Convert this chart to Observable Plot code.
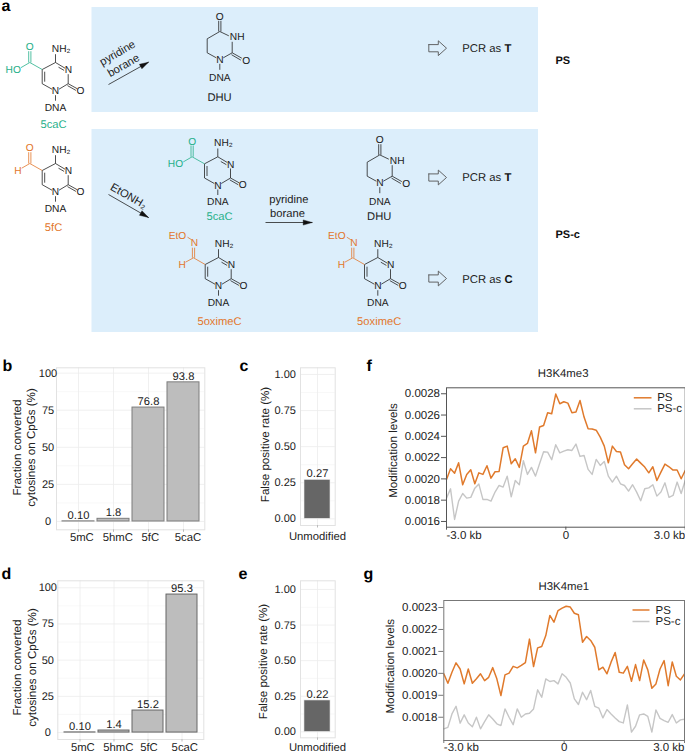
<!DOCTYPE html>
<html><head><meta charset="utf-8">
<script src="https://cdn.jsdelivr.net/npm/d3@7"></script>
<script src="https://cdn.jsdelivr.net/npm/@observablehq/plot@0.6"></script>
<style>
html,body{margin:0;padding:0;background:#fff}
#page{position:relative;width:685px;height:753px;overflow:hidden}
#page svg{position:absolute;background:transparent;overflow:visible;text-rendering:geometricPrecision}
</style></head><body><div id="page"></div>
<script>
const FONT = "'Liberation Sans', Arial, sans-serif";
const cats = ["5mC","5hmC","5fC","5caC"];
const valuesB = [0.10,1.8,76.8,93.8];
const labelsB = ["0.10","1.8","76.8","93.8"];
const valuesD = [0.10,1.4,15.2,95.3];
const labelsD = ["0.10","1.4","15.2","95.3"];
const unmod = ["Unmodified"];
const valuesC = [0.27];
const valuesE = [0.22];
const f_PS = [1.995,2.095,2.054,2.151,1.945,2.042,2.086,1.954,2.057,2.042,2.123,2.007,2.067,2.070,2.292,2.308,2.142,2.189,2.108,2.308,2.333,2.452,2.245,2.487,2.502,2.621,2.612,2.797,2.706,2.725,2.712,2.621,2.628,2.737,2.581,2.471,2.468,2.458,2.393,2.308,2.151,2.308,2.258,2.252,2.133,2.095,2.142,2.186,2.148,2.111,2.057,2.114,1.985,2.064,2.139,2.114,2.083,2.083,2.001,2.079];
const f_PSc = [1.819,1.907,1.619,1.791,1.863,1.819,1.826,1.913,1.951,1.807,1.807,1.791,1.876,1.938,1.923,2.026,1.832,1.985,1.945,2.170,2.042,2.108,2.026,2.142,2.255,2.252,2.180,2.321,2.245,2.261,2.274,2.267,2.327,2.211,2.220,2.089,2.042,2.183,2.126,2.164,2.026,1.970,2.026,1.954,1.938,1.885,1.945,1.876,1.794,1.907,1.916,1.945,1.838,1.876,1.963,1.826,1.844,1.970,1.863,1.985];
const g_PS = [1.998,1.955,2.005,2.048,2.020,1.952,2.020,1.955,1.975,1.998,1.967,1.982,2.026,1.975,1.899,1.993,2.001,2.032,2.025,2.036,2.049,2.156,2.031,2.116,2.122,2.172,2.264,2.233,2.286,2.297,2.306,2.302,2.274,2.267,2.142,2.168,2.150,2.119,2.016,2.028,1.998,2.051,2.095,2.005,2.001,2.032,1.964,2.040,1.967,2.061,2.016,1.932,1.952,2.020,2.058,1.944,2.052,1.987,1.970,1.998];
const g_PSc = [1.747,1.754,1.815,1.850,1.773,1.811,1.774,1.757,1.800,1.747,1.780,1.811,1.792,1.770,1.762,1.838,1.800,1.766,1.838,1.800,1.815,1.818,1.838,1.925,1.891,1.975,1.963,1.967,1.952,1.998,1.982,1.956,1.884,1.858,1.914,1.880,1.922,1.850,1.842,1.797,1.835,1.815,1.797,1.780,1.774,1.856,1.732,1.759,1.811,1.815,1.804,1.732,1.833,1.795,1.785,1.777,1.812,1.774,1.788,1.791];
const ticksPct = [0,25,50,75,100];
const minorPct = [12.5,37.5,62.5,87.5];
const ticksRate = [0,0.25,0.5,0.75,1];
const minorRate = [0.125,0.375,0.625,0.875];
const ticksF = [0.0016,0.0018,0.0020,0.0022,0.0024,0.0026,0.0028];
const ticksG = [0.0018,0.0019,0.0020,0.0021,0.0022,0.0023];

const page = document.getElementById("page");
const INK="#222", GREEN="#27b08a", ORANGE="#e2762b", BLUE="#dceefb";
const GRID="#ececec", MINOR="#f5f5f5", BORDER="#e2e2e2";

function place(svg,box){
  svg.style.left=box.left+"px"; svg.style.top=box.top+"px";
  page.appendChild(svg);
}
// box = svg rectangle on the page; fr = plotting frame on the page
function panel(box,fr,opts){
  const svg = Plot.plot({
    width:box.w,height:box.h,
    marginLeft:fr.x0-box.left,marginRight:box.left+box.w-fr.x1,
    marginTop:fr.y0-box.top,marginBottom:box.top+box.h-fr.y1,
    style:{fontFamily:FONT,fontSize:"11.3px",background:"transparent",color:"#1a1a1a"},
    ...opts});
  place(svg,box);
}

/* ---------- bar panels ---------- */
function barPanel(box,fr,ydom,x,vals,labs,ticks,minor,fill,stroke,yDx,shifts,sw,fmt,labelDy){
  const rows = x.map((c,i)=>({c,v:vals[i],l:labs[i]}));
  panel(box,fr,{
    x:{type:"band",domain:x,paddingInner:x.length>1?0.091:0,paddingOuter:x.length>1?0.148:0.15,axis:null},
    y:{domain:ydom,axis:null},
    marks:[
      Plot.ruleY(minor,{stroke:MINOR,strokeWidth:0.7}),
      Plot.ruleY(ticks,{stroke:GRID,strokeWidth:0.8}),
      Plot.ruleX(x,{x:d=>d,stroke:GRID,strokeWidth:0.8}),
      Plot.frame({stroke:BORDER,strokeWidth:1}),
      Plot.barY(rows,{x:"c",y1:0,y2:"v",fill,stroke,strokeWidth:sw}),
      Plot.text(rows,{x:"c",y:"v",text:"l",lineAnchor:"middle",dy:-6,fontSize:11.2,fill:"#1a1a1a"}),
      Plot.axisY({ticks,tickSize:0,tickPadding:0,label:null,anchor:"left",textAnchor:"middle",dx:yDx,fontSize:11,fill:"#222",tickFormat:fmt}),
      Plot.axisX({tickSize:2.5,stroke:"#bbb",fill:"none",label:null}),
      ...x.map((c,i)=>Plot.text([c],{x:d=>d,frameAnchor:"bottom",lineAnchor:"middle",dx:shifts[i],dy:labelDy,fontSize:11.3,fill:"#222"}))
    ]});
}
const pct = d=>String(d), rate = d=>d.toFixed(2);
barPanel({left:20,top:358,w:200,h:190},{x0:56,x1:204.3,y0:367.3,y1:529.3},[-5.6,103.6],cats,valuesB,labelsB,ticksPct,minorPct,"#bdbdbd","#7d7d7d",-8.5,[3.3,4.3,1.8,4.4],1,pct,7.5);
barPanel({left:20,top:571,w:200,h:180},{x0:57.3,x1:203.3,y0:580.3,y1:739},[-4.8,104.8],cats,valuesD,labelsD,ticksPct,minorPct,"#bdbdbd","#666",-10,[2.8,4.3,1,2.8],1,pct,8);
barPanel({left:270,top:358,w:90,h:190},{x0:300,x1:334.7,y0:367.3,y1:525},[-0.046,1.046],unmod,valuesC,["0.27"],ticksRate,minorRate,"#666","#eee",-15.3,[0],0.6,rate,11);
barPanel({left:270,top:571,w:90,h:180},{x0:300,x1:334.7,y0:580.3,y1:737.3},[-0.042,1.061],unmod,valuesE,["0.22"],ticksRate,minorRate,"#666","#ddd",-15.3,[0],0.6,rate,9.7);

/* ---------- line panels ---------- */
function linePanel(box,fr,ydom,ps,psc,ticks,axisColor,textDy){
  const rows = (arr,s)=>arr.map((v,i)=>({x:-3+i*6/(arr.length-1),y:v/1000,s}));
  panel(box,fr,{
    x:{domain:[-3,3],axis:null},
    y:{domain:ydom,axis:null},
    marks:[
      Plot.line(rows(psc,"PS-c"),{x:"x",y:"y",stroke:"#c6c6c6",strokeWidth:1.4}),
      Plot.line(rows(ps,"PS"),{x:"x",y:"y",stroke:"#e07a2c",strokeWidth:1.5}),
      Plot.frame({stroke:axisColor,strokeWidth:1}),
      Plot.axisY({ticks,tickSize:5,tickPadding:1.5,label:null,anchor:"left",stroke:axisColor,fontSize:11.5,fill:"#222",tickFormat:d3.format(".4f")}),
      Plot.axisX({ticks:[-3,0,3],tickSize:3,stroke:axisColor,fill:"none",label:null}),
      Plot.text(["-3.0 kb"],{x:()=>-3,frameAnchor:"bottom",lineAnchor:"middle",textAnchor:"start",dy:textDy,fontSize:11.5,fill:"#222"}),
      Plot.text(["0"],{x:()=>0,frameAnchor:"bottom",lineAnchor:"middle",dy:textDy,fontSize:11.5,fill:"#222"}),
      Plot.text(["3.0 kb"],{x:()=>3,frameAnchor:"bottom",lineAnchor:"middle",textAnchor:"end",dy:textDy,fontSize:11.5,fill:"#222"})
    ]});
}
linePanel({left:400,top:380,w:285,h:165},{x0:446,x1:684.7,y0:387.3,y1:526.7},[0.001546,0.002856],f_PS,f_PSc,ticksF,"#555",8.5);
linePanel({left:400,top:592,w:285,h:160},{x0:443.3,x1:684,y0:600,y1:740},[0.001694,0.002332],g_PS,g_PSc,ticksG,"#777",6.8);

/* ---------- schematic, panel letters and free text ---------- */
const molecules = [
  {kind:"C",x:55,y:90.7,sub:"caC"},
  {kind:"C",x:55,y:191.7,sub:"fC"},
  {kind:"C",x:217.3,y:185,sub:"caC"},
  {kind:"C",x:218,y:285.7,sub:"ox"},
  {kind:"C",x:377.3,y:285.7,sub:"ox"},
  {kind:"U",x:219.3,y:59.3},
  {kind:"U",x:379.3,y:182.7}
];
const cytBonds = [[3.5,-2,12.7,-7.5],[12.7,-7.5,12.7,-17],[9.5,-23,0,-28.7],[8.6,-20.8,3,-24],[0,-28.7,-13.3,-21.7],[-13.3,-21.7,-13.3,-7.5],[-10.8,-19.5,-10.8,-9.5],[-13.3,-7.5,-3.5,-2],[0,-28.7,0,-37],[12.7,-7.5,21.5,-2.6],[12,-5.6,20.4,-0.8],[0,4,0,9.5]];
const cytAtoms = [["N",0,0],["N",12.9,-21],["O",25,-0.3],["NH₂",5.6,-42.5],["DNA",0,16.3]];
const dhuBonds = [[3.5,-2,12.4,-7],[12.4,-7,12.4,-18],[9,-24,0,-28.3],[0,-28.3,-12.6,-21],[-12.6,-21,-12.6,-7],[-12.6,-7,-3.5,-2],[-1.1,-28.3,-1.1,-39],[1.1,-28.3,1.1,-39],[12.4,-7,22,-1.6],[11.7,-5.1,21,0.3],[0,4,0,10]];
const dhuAtoms = [["N",0,0],["NH",17.4,-22.6],["O",0,-43.3],["O",26.4,0.7],["DNA",0,18.4]];
const subBonds = {
  caC:[[-13.3,-21.7,-25.7,-28.7],[-26.8,-28.7,-26.8,-40],[-24.6,-28.7,-24.6,-40],[-25.7,-28.7,-34.5,-23.6]],
  fC:[[-13.3,-21.7,-25.7,-28.7],[-26.8,-28.7,-26.8,-40],[-24.6,-28.7,-24.6,-40],[-25.7,-28.7,-33.8,-24]],
  ox:[[-13.3,-21.7,-25,-28.4],[-26.1,-28.4,-26.1,-38.5],[-23.9,-28.4,-23.9,-38.5],[-25,-28.4,-33,-24],[-27,-46.5,-31,-49]]
};
const subAtoms = {
  caC:[["O",-25.7,-44],["HO",-42.3,-21.7]],
  fC:[["O",-25.7,-44],["H",-37.7,-21.7]],
  ox:[["N",-24,-43.4],["EtO",-41,-50.7],["H",-36.3,-21.7]]
};
const subColor = {caC:GREEN,fC:ORANGE,ox:ORANGE};
const bonds=[],atoms=[];
for(const m of molecules){
  const bl = m.kind==="C"?cytBonds:dhuBonds, al = m.kind==="C"?cytAtoms:dhuAtoms;
  bl.forEach(b=>bonds.push({x1:m.x+b[0],y1:m.y+b[1],x2:m.x+b[2],y2:m.y+b[3],c:INK}));
  al.forEach(a=>atoms.push({t:a[0],x:m.x+a[1],y:m.y+a[2],c:INK}));
  if(m.sub){
    subBonds[m.sub].forEach(b=>bonds.push({x1:m.x+b[0],y1:m.y+b[1],x2:m.x+b[2],y2:m.y+b[3],c:subColor[m.sub]}));
    subAtoms[m.sub].forEach(a=>atoms.push({t:a[0],x:m.x+a[1],y:m.y+a[2],c:subColor[m.sub]}));
  }
}
const boxes = [{x1:91.5,x2:538,y1:7,y2:112},{x1:91.5,x2:538,y1:129,y2:332}];
const arrows = [{x1:108,y1:84,x2:148,y2:61.7},{x1:108,y1:194,x2:148,y2:217},{x1:265,y1:222,x2:311.7,y2:222}];
const heads = arrows.flatMap((a,i)=>{
  const L=Math.hypot(a.x2-a.x1,a.y2-a.y1),ux=(a.x2-a.x1)/L,uy=(a.y2-a.y1)/L;
  const bx=a.x2-ux*9,by=a.y2-uy*9;
  return [{i,x:a.x2,y:a.y2},{i,x:bx-uy*2.6,y:by+ux*2.6},{i,x:bx+uy*2.6,y:by-ux*2.6},{i,x:a.x2,y:a.y2}];
});
const blockY = [47.7,177,278];
const blockOutline = [[0,-3.6],[9.5,-3.6],[9.5,-7.4],[17.7,0],[9.5,7.4],[9.5,3.6],[0,3.6],[0,-3.6]];
const blocks = blockY.flatMap((y,i)=>blockOutline.map(p=>({i,x:428.3+p[0],y:y+p[1]})));
const labels = [
  {t:"5caC",x:53,y:123.7,c:GREEN},{t:"5fC",x:53,y:227,c:ORANGE},{t:"DHU",x:219,y:97.3,c:INK},
  {t:"5caC",x:219,y:216.3,c:GREEN},{t:"5oximeC",x:219,y:321,c:ORANGE},{t:"DHU",x:378.7,y:216,c:INK},{t:"5oximeC",x:378.7,y:321,c:ORANGE},
  {t:"pyridine",x:288.3,y:199,c:INK},{t:"borane",x:287,y:212.7,c:INK}
];
const pcr = [{t:"PCR as ",b:"T",y:47.7},{t:"PCR as ",b:"T",y:177},{t:"PCR as ",b:"C",y:278.5}];
const bold = [{t:"PS",x:555,y:59.5},{t:"PS-c",x:555,y:234}];
const letters = [{t:"a",x:1,y:5},{t:"b",x:2,y:365},{t:"c",x:239,y:365},{t:"f",x:366,y:365},{t:"d",x:1,y:573},{t:"e",x:238,y:573},{t:"g",x:363,y:573}];
const yTitles = [
  {t:"Fraction converted",x:17,y:447},{t:"cytosines on CpGs (%)",x:31,y:447},{t:"False positive rate (%)",x:265,y:444},
  {t:"Fraction converted",x:17,y:667},{t:"cytosines on CpGs (%)",x:32,y:667},{t:"False positive rate (%)",x:263,y:661},
  {t:"Modification levels",x:392.7,y:450},{t:"Modification levels",x:390,y:665.7}
];
const titles = [{t:"H3K4me3",x:562.7,y:373},{t:"H3K4me1",x:563.3,y:586}];
const legendRows = [
  {t:"PS",x1:633.3,x2:651,xt:656.7,y:397.3,c:"#e07a2c"},{t:"PS-c",x1:633.3,x2:651,xt:656.7,y:408.3,c:"#c6c6c6"},
  {t:"PS",x1:632,x2:649,xt:655,y:609.5,c:"#e07a2c"},{t:"PS-c",x1:632,x2:649,xt:655,y:621,c:"#c6c6c6"}
];
const over = Plot.plot({
  width:685,height:753,margin:0,
  x:{domain:[0,685],range:[0,685],axis:null},
  y:{domain:[0,753],range:[0,753],axis:null},
  style:{fontFamily:FONT,background:"transparent",color:"#1a1a1a"},
  marks:[
    Plot.rect(boxes,{x1:"x1",x2:"x2",y1:"y1",y2:"y2",fill:BLUE}),
    Plot.link(bonds,{x1:"x1",y1:"y1",x2:"x2",y2:"y2",stroke:"c",strokeWidth:0.8}),
    Plot.text(atoms,{x:"x",y:"y",text:"t",fill:"c",fontSize:10.2}),
    Plot.link(arrows,{x1:"x1",y1:"y1",x2:"x2",y2:"y2",stroke:INK,strokeWidth:0.8}),
    Plot.line(heads,{x:"x",y:"y",z:"i",fill:"#111",stroke:"#111",strokeWidth:0.4}),
    Plot.line(blocks,{x:"x",y:"y",z:"i",stroke:"#555",strokeWidth:0.9,fill:"none"}),
    Plot.text(labels,{x:"x",y:"y",text:"t",fill:"c",fontSize:11.2}),
    Plot.text(["pyridine"],{x:()=>117,y:()=>52.5,rotate:-30,fontSize:11.2,fill:INK}),
    Plot.text(["borane"],{x:()=>123,y:()=>65,rotate:-30,fontSize:11.2,fill:INK}),
    Plot.text(["EtONH₂"],{x:()=>128,y:()=>195.5,rotate:30,fontSize:11.2,fill:INK}),
    Plot.text(pcr,{x:()=>461.7,y:"y",text:"t",textAnchor:"start",fontSize:11.3,fill:INK}),
    Plot.text(pcr,{x:()=>504,y:"y",text:"b",textAnchor:"start",fontSize:11.3,fontWeight:"bold",fill:"#111"}),
    Plot.text(bold,{x:"x",y:"y",text:"t",textAnchor:"start",fontSize:11,fontWeight:"bold",fill:"#111"}),
    Plot.text(letters,{x:"x",y:"y",text:"t",textAnchor:"start",fontSize:16,fontWeight:"bold",fill:"#000"}),
    Plot.text(yTitles,{x:"x",y:"y",text:"t",rotate:-90,fontSize:11.6,fill:"#222"}),
    Plot.text(titles,{x:"x",y:"y",text:"t",fontSize:11.4,fill:"#222"}),
    Plot.link(legendRows,{x1:"x1",x2:"x2",y1:"y",y2:"y",stroke:"c",strokeWidth:1.5}),
    Plot.text(legendRows,{x:"xt",y:"y",text:"t",textAnchor:"start",fontSize:11.5,fill:"#222"})
  ]});
over.style.left="0px";over.style.top="0px";
page.insertBefore(over,page.firstChild);
</script></body></html>
